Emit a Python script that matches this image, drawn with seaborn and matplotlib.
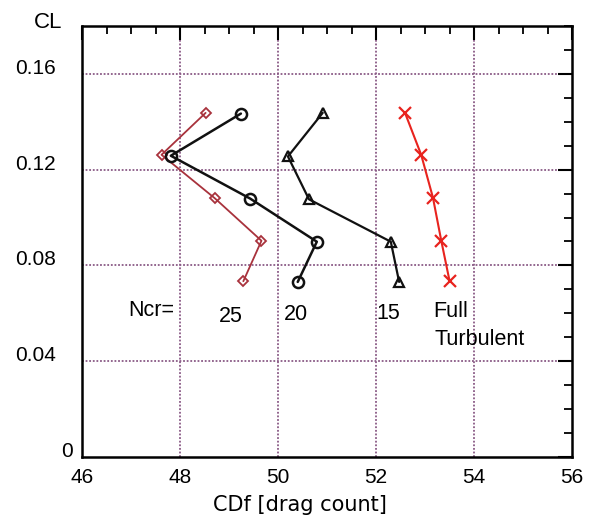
import matplotlib
matplotlib.use("Agg")
import matplotlib.pyplot as plt
import seaborn as sns
import pandas as pd
from matplotlib.ticker import MultipleLocator

# Data (CDf in drag counts, CL)
cl_25 = [0.1437, 0.1262, 0.1080, 0.0903, 0.0734]
cdf_25 = [48.52, 47.62, 48.71, 49.66, 49.29]
cl_20 = [0.1434, 0.1258, 0.1079, 0.0899, 0.0731]
cdf_20 = [49.24, 47.81, 49.43, 50.79, 50.40]
cl_15 = [0.1437, 0.1255, 0.1076, 0.0899, 0.0731]
cdf_15 = [50.91, 50.20, 50.63, 52.30, 52.47]
cl_ft = [0.1437, 0.1262, 0.1083, 0.0903, 0.0734]
cdf_ft = [52.59, 52.92, 53.16, 53.33, 53.50]

series_labels = ["25", "20", "15", "Full", "Turbulent"]
x_ticks = [46, 48, 50, 52, 54, 56]
y_ticks = [0, 0.04, 0.08, 0.12, 0.16]
y_ticklabels = ["0", "0.04", "0.08", "0.12", "0.16"]

sns.set_theme(style="white")
plt.rcParams['font.family'] = ['Liberation Sans', 'DejaVu Sans']
plt.rcParams['text.color'] = 'black'
plt.rcParams['xtick.color'] = 'black'
plt.rcParams['ytick.color'] = 'black'
plt.rcParams['axes.labelcolor'] = 'black'
plt.rcParams['xtick.labelsize'] = 15
plt.rcParams['ytick.labelsize'] = 15

fig = plt.figure(figsize=(5.91, 5.19), dpi=100)
ax = fig.add_axes([0.139, 0.1195, 0.829, 0.8305])

styles = [
    (cdf_25, cl_25, dict(color="#a8323c", marker="D", markersize=5, linewidth=1.3,
                         markerfacecolor="none", markeredgecolor="#a8323c", markeredgewidth=1.3)),
    (cdf_20, cl_20, dict(color="#111111", marker="o", markersize=8, linewidth=1.8,
                         markerfacecolor="none", markeredgecolor="#111111", markeredgewidth=1.8)),
    (cdf_15, cl_15, dict(color="#111111", marker="^", markersize=7, linewidth=1.6,
                         markerfacecolor="none", markeredgecolor="#111111", markeredgewidth=1.6)),
    (cdf_ft, cl_ft, dict(color="#e8231e", marker="x", markersize=8, linewidth=1.5,
                         markeredgecolor="#e8231e", markeredgewidth=1.6)),
]
for xs, ys, kw in styles:
    df = pd.DataFrame({"CDf": xs, "CL": ys})
    sns.lineplot(data=df, x="CDf", y="CL", sort=False, ax=ax, legend=False, **kw)

ax.set_xlim(46, 56)
ax.set_ylim(0, 0.18)
ax.set_xticks(x_ticks)
ax.set_yticks(y_ticks)
ax.set_yticklabels(y_ticklabels)
ax.xaxis.set_minor_locator(MultipleLocator(0.5))
ax.yaxis.set_minor_locator(MultipleLocator(0.01))
ax.tick_params(which="both", direction="in", top=True, right=True, color="black")
ax.tick_params(which="major", length=10, width=1.5, labelsize=15)
ax.tick_params(which="minor", length=6, width=1.3)
ax.tick_params(axis="x", which="major", pad=8, labeltop=False, labelsize=15)
ax.tick_params(axis="y", which="major", pad=19, labelright=False, labelsize=15)
for lab in ax.get_yticklabels():
    lab.set_verticalalignment("baseline")
    lab.set_fontsize(15)
for lab in ax.get_xticklabels():
    lab.set_fontsize(15)
ax.yaxis.get_major_ticks()[0].set_pad(7)

for s in ax.spines.values():
    s.set_color("black")
    s.set_linewidth(1.8)

for gx in [48, 50, 52, 54]:
    ax.axvline(gx, color="#8a5a86", linestyle=(0, (1, 1.0)), linewidth=1.3, zorder=0)
for gy in [0.04, 0.08, 0.12, 0.16]:
    ax.axhline(gy, color="#8a5a86", linestyle=(0, (1, 1.0)), linewidth=1.3, zorder=0)

ax.set_xlabel("CDf [drag count]", fontsize=15, family=["DejaVu Sans"])
ax.xaxis.set_label_coords(0.445, -0.088)
ax.set_ylabel("")
fig.text(48 / 591, 1 - 28 / 519, "CL", fontsize=16, ha="center", va="baseline")

ax.text(46.94, 0.0589, "Ncr=", fontsize=15.5, ha="left", va="baseline")
ax.text(49.04, 0.0564, series_labels[0], fontsize=15.5, ha="center", va="baseline")
ax.text(50.37, 0.0572, series_labels[1], fontsize=15.5, ha="center", va="baseline")
ax.text(52.24, 0.0576, series_labels[2], fontsize=15.5, ha="center", va="baseline")
ax.text(53.16, 0.0585, series_labels[3], fontsize=15.5, ha="left", va="baseline")
ax.text(53.20, 0.0468, series_labels[4], fontsize=15.5, ha="left", va="baseline")

fig.savefig("out.png", dpi=100)
